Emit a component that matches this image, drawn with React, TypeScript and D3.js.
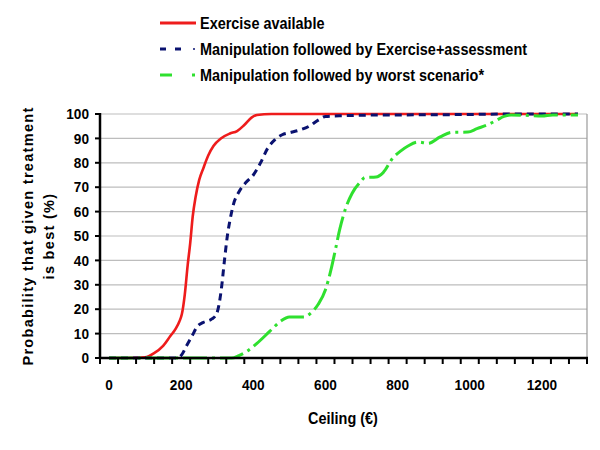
import React from "react";
import * as d3 from "d3";

const seriesNames = [
  "Exercise available",
  "Manipulation followed by Exercise+assessment",
  "Manipulation followed by worst scenario*",
];

const exerciseX = [0, 50, 100, 125, 150, 170, 185, 195, 202, 210, 218, 225, 232, 240, 250, 262, 275, 290, 310, 335, 355, 375, 395, 410, 450, 500, 600, 700, 800, 900, 1000, 1100, 1200, 1300];
const exerciseY = [0, 0, 0.3, 2, 5, 9, 12, 15, 18, 26, 38, 47, 58, 66, 73, 78, 83, 87, 90, 92, 93, 95.5, 98.5, 99.6, 100, 100, 100, 100, 100, 100, 100, 100, 100, 100];

const manipX = [0, 100, 190, 200, 215, 230, 245, 260, 285, 298, 305, 312, 320, 328, 336, 345, 360, 380, 400, 420, 440, 460, 480, 505, 530, 555, 580, 600, 650, 700, 800, 900, 1000, 1100, 1200, 1300];
const manipY = [0, 0, 0, 1, 5, 9, 13, 14.5, 16, 18, 22, 29, 40, 50, 57, 63, 68, 72, 75, 80, 86, 89.5, 91.5, 92.5, 93.5, 95, 97.5, 99, 99.3, 99.5, 99.6, 99.7, 99.8, 100, 100, 100];

const worstX = [0, 100, 200, 300, 340, 360, 380, 410, 446, 475, 500, 540, 560, 580, 600, 615, 627, 640, 654, 674, 696, 710, 740, 760, 787, 810, 830, 857, 885, 918, 950, 995, 1020, 1050, 1075, 1095, 1115, 1150, 1200, 1230, 1300];
const worstY = [0, 0, 0, 0, 0, 1, 2.5, 6, 11, 15, 16.8, 16.8, 18.5, 22, 28, 36, 44, 53, 60.5, 67.5, 72, 74, 74.2, 76, 82, 85, 87, 88.5, 88, 90.6, 92.5, 92.6, 94, 95.6, 97.5, 99, 99.6, 99.5, 99.2, 99.6, 99.6];

const xTickLabels = [0, 200, 400, 600, 800, 1000, 1200];
const yTickLabels = [0, 10, 20, 30, 40, 50, 60, 70, 80, 90, 100];

const FONT = "'Liberation Sans', Arial, sans-serif";

export default function App() {
  const left = 100, right = 587, top = 114, bottom = 358;
  const x = d3.scaleLinear().domain([-25, 1325]).range([left, right]);
  const y = d3.scaleLinear().domain([0, 100]).range([bottom, top]);
  const line = d3
    .line<[number, number]>()
    .x((d) => x(d[0]))
    .y((d) => y(d[1]))
    .curve(d3.curveMonotoneX);

  const zip = (a: number[], b: number[]) => a.map((v, i) => [v, b[i]] as [number, number]);

  const series = [
    { name: seriesNames[0], data: zip(exerciseX, exerciseY), color: "#ee1c1c", dash: undefined, width: 2.6 },
    { name: seriesNames[1], data: zip(manipX, manipY), color: "#0a1270", dash: "7 5", width: 3 },
    { name: seriesNames[2], data: zip(worstX, worstY), color: "#2fe02f", dash: "24 5 3 5", width: 3 },
  ];

  const boundaries = d3.range(0, 28).map((k) => -25 + 50 * k);
  const SX = 0.85;

  return (
    <svg width={600} height={450} style={{ position: "absolute", left: 0, top: 0 }} fontFamily={FONT}>
      <rect x={0} y={0} width={600} height={450} fill="#fff" />
      {/* gridlines */}
      {yTickLabels.filter((v) => v > 0).map((v) => (
        <line key={v} x1={left} x2={right} y1={y(v)} y2={y(v)} stroke="#bdbdbd" strokeWidth={1.2} />
      ))}
      <line x1={right} x2={right} y1={top} y2={bottom} stroke="#9a9a9a" strokeWidth={1.2} />
      {/* series */}
      {series.map((s) => (
        <path key={s.name} d={line(s.data) || ""} fill="none" stroke={s.color} strokeWidth={s.width} strokeDasharray={s.dash} strokeLinejoin="round" />
      ))}
      {/* axes */}
      <line x1={left} x2={right + 1} y1={bottom} y2={bottom} stroke="#000" strokeWidth={2.5} />
      <line x1={left} x2={left} y1={top - 1} y2={bottom + 1} stroke="#000" strokeWidth={2.5} />
      {boundaries.map((b) => (
        <line key={b} x1={x(b)} x2={x(b)} y1={bottom} y2={bottom + 6} stroke="#000" strokeWidth={2} />
      ))}
      {yTickLabels.map((v) => (
        <g key={v}>
          <line x1={left - 5} x2={left} y1={y(v)} y2={y(v)} stroke="#000" strokeWidth={2} />
          <text transform={`translate(89,${y(v)}) scale(0.94,1)`} dy="0.36em" textAnchor="end" fontSize={14.5} fontWeight="bold">
            {v}
          </text>
        </g>
      ))}
      {xTickLabels.map((v) => (
        <text key={v} transform={`translate(${x(v)},390) scale(0.94,1)`} textAnchor="middle" fontSize={14.5} fontWeight="bold">
          {v}
        </text>
      ))}
      <text transform={`translate(343,424) scale(${SX},1)`} textAnchor="middle" fontSize={17} fontWeight="bold">
        Ceiling (€)
      </text>
      <g transform="translate(0,236) rotate(-90)">
        <text x={0} y={33} textAnchor="middle" fontSize={14.5} fontWeight="bold" letterSpacing="1.3px">
          Probability that given treatment
        </text>
        <text x={0} y={54} textAnchor="middle" fontSize={14.5} fontWeight="bold" letterSpacing="1.3px">
          is best (%)
        </text>
      </g>
      {/* legend */}
      {series.map((s, i) => {
        const ly = 23 + i * 26;
        return (
          <g key={s.name}>
            {i === 0 && <line x1={160} x2={196} y1={ly} y2={ly} stroke={s.color} strokeWidth={3} />}
            {i === 1 && (
              <g>
                <line x1={160} x2={166} y1={ly} y2={ly} stroke={s.color} strokeWidth={3} />
                <line x1={175} x2={181} y1={ly} y2={ly} stroke={s.color} strokeWidth={3} />
                <line x1={193} x2={195} y1={ly} y2={ly} stroke={s.color} strokeWidth={1.5} />
              </g>
            )}
            {i === 2 && (
              <g>
                <line x1={160} x2={172} y1={ly} y2={ly} stroke={s.color} strokeWidth={3} />
                <line x1={192} x2={195} y1={ly} y2={ly} stroke={s.color} strokeWidth={3} />
              </g>
            )}
            <text transform={`translate(200,${ly + 6}) scale(${SX},1)`} fontSize={17} fontWeight="bold">
              {s.name}
            </text>
          </g>
        );
      })}
    </svg>
  );
}
